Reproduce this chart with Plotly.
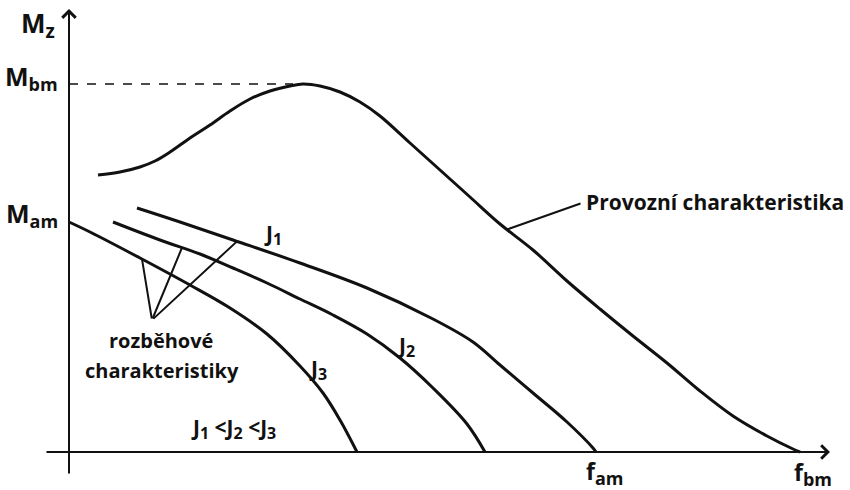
import numpy as np
import plotly.graph_objects as go

# Operating characteristic (Provozní charakteristika): torque M vs. frequency f
prov_f = [29, 51, 71, 86, 101, 121, 141, 161, 181, 201, 221, 234, 251, 271,
          291, 311, 341, 371, 401, 431, 464, 498, 531, 564, 598, 631, 664, 698, 724, 731]
prov_M = [277, 280, 285, 291, 300, 314, 327, 341, 353, 361, 366, 368, 366, 360,
          350, 336, 309, 282, 255, 228, 202, 171, 143, 116, 89, 61, 36, 16, 3, 0]

# Start-up characteristics for moments of inertia J1 < J2 < J3
j1_f = [68, 111, 164, 231, 298, 364, 404, 431, 464, 498, 524, 527]
j1_M = [244, 230, 212, 189, 164, 133, 110, 87, 59, 30, 4, 0]
j2_f = [44, 91, 131, 164, 198, 231, 264, 298, 331, 364, 398, 416]
j2_M = [230, 212, 198, 184, 169, 153, 137, 118, 94, 64, 28, 0]
j3_f = [0, 21, 71, 121, 161, 198, 231, 254, 271, 288]
j3_M = [230, 220, 194, 167, 144, 118, 86, 59, 32, 0]

INK = "#111111"
FONT = "Open Sans"

fig = go.Figure()
for fx, my in [(prov_f, prov_M), (j1_f, j1_M), (j2_f, j2_M), (j3_f, j3_M)]:
    fig.add_trace(go.Scatter(x=fx, y=my, mode="lines",
                             line=dict(color=INK, width=3, shape="spline", smoothing=1.0),
                             hoverinfo="skip"))

M_bm = max(prov_M)
f_peak = prov_f[int(np.argmax(prov_M))]
M_am = j3_M[0]
f_am = j1_f[-1]
f_bm = prov_f[-1]

annotations = []

def arrow(x, y, ax, ay, width=2, head=0, size=1.0):
    annotations.append(dict(x=x, y=y, ax=ax, ay=ay, xref="x", yref="y", axref="x", ayref="y",
                            text="", showarrow=True, arrowhead=head, arrowsize=size,
                            arrowwidth=width, arrowcolor=INK, standoff=0, startstandoff=0))

def label(x, y, text, size, xanchor="center", yanchor="middle"):
    annotations.append(dict(x=x, y=y, xref="x", yref="y", text=text, showarrow=False,
                            xanchor=xanchor, yanchor=yanchor,
                            font=dict(family=FONT, size=size, color=INK)))

def sym(base, sub, sub_size):
    return f"<b>{base}<sub><span style='font-size:{sub_size}px'>{sub}</span></sub></b>"

# axes with arrow tips
arrow(0, 443, 0, -23, width=2, head=4, size=1.3)
arrow(761, 0, -24, 0, width=2, head=4, size=1.3)

# leader lines from the "rozběhové charakteristiky" note to the three start-up curves
vertex = (83, 132)
for fx, my, ft in [(j3_f, j3_M, 73), (j2_f, j2_M, 113), (j1_f, j1_M, 168)]:
    arrow(ft, float(np.interp(ft, fx, my)), vertex[0], vertex[1])

# leader to the operating characteristic
f_lead = 438
arrow(f_lead, float(np.interp(f_lead, prov_f, prov_M)), 513, 249)

label(515, 250, "<b>Provozní charakteristika</b>", 21, xanchor="left")
label(92, 112, "<b>rozběhové</b>", 20)
label(93, 82, "<b>charakteristiky</b>", 20)
label(164, 24, sym("J", "1", 16) + "<b> &lt;</b>" + sym("J", "2", 16) + "<b> &lt;</b>" + sym("J", "3", 16), 21)
label(204, 218, sym("J", "1", 16), 21)
label(337, 106, sym("J", "2", 16), 21)
label(249, 83, sym("J", "3", 16), 21)

label(-31, 428, sym("M", "z", 19), 26)
label(-9, M_bm + 7, sym("M", "bm", 18), 25, xanchor="right")
label(-9, M_am + 8, sym("M", "am", 18), 25, xanchor="right")
label(f_am + 8, -20, sym("f", "am", 18), 23)
label(f_bm + 13, -21, sym("f", "bm", 18), 23)

fig.update_layout(
    width=850, height=490,
    margin=dict(l=0, r=0, t=0, b=0),
    paper_bgcolor="white", plot_bgcolor="white",
    showlegend=False,
    xaxis=dict(range=[-69, 781], visible=False, fixedrange=True),
    yaxis=dict(range=[-38, 452], visible=False, fixedrange=True),
    shapes=[dict(type="line", xref="x", yref="y", x0=0, y0=M_bm, x1=f_peak - 10, y1=M_bm,
                 line=dict(color=INK, width=1.5, dash="dash"))],
    annotations=annotations,
)

fig.write_html("out.html")
